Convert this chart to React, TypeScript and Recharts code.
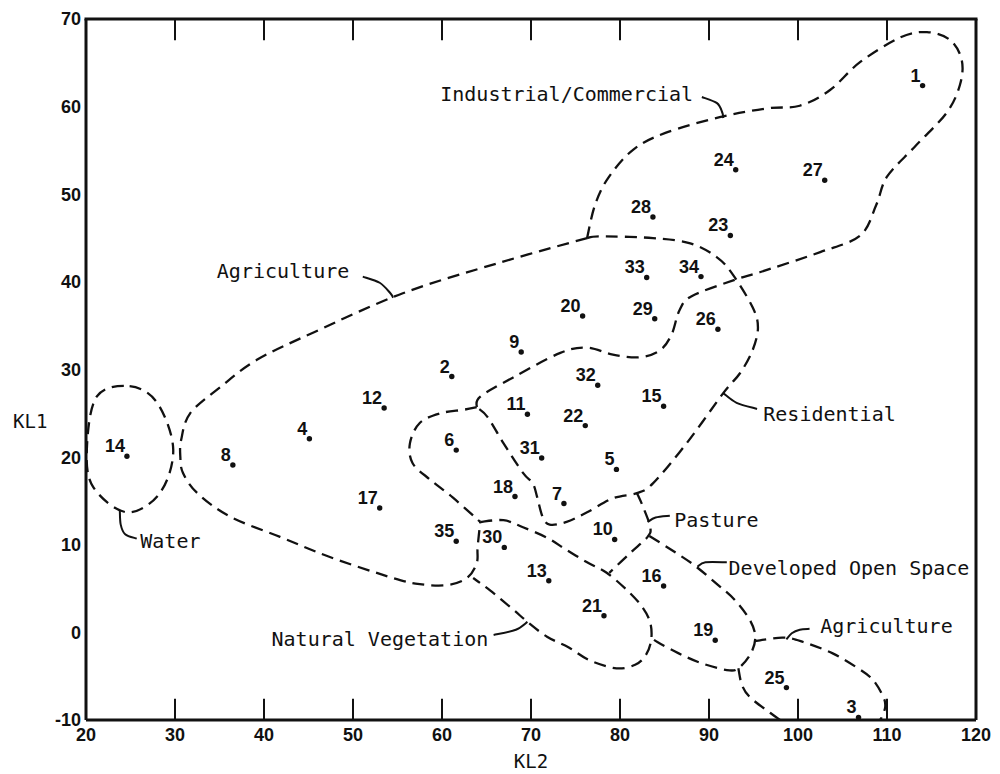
import React from 'react';
import { ScatterChart, Scatter, XAxis, YAxis } from 'recharts';

// sites: id, KL2 (x) and KL1 (y)
const siteIds = [
  1, 2, 3, 4, 5, 6, 7, 8, 9, 10, 11, 12, 13, 14, 15, 16, 17, 18,
  19, 20, 21, 22, 23, 24, 25, 26, 27, 28, 29, 30, 31, 32, 33, 34, 35,
];
const kl2 = [
  114.0, 61.1, 106.8, 45.1, 79.6, 61.6, 73.7, 36.5, 68.9, 79.4, 69.6, 53.5, 72.0, 24.6, 84.9, 84.9, 53.0, 68.2,
  90.7, 75.8, 78.2, 76.1, 92.4, 93.0, 98.7, 91.0, 103.0, 83.7, 83.9, 67.0, 71.2, 77.5, 83.0, 89.1, 61.6,
];
const kl1 = [
  62.4, 29.2, -9.7, 22.1, 18.6, 20.8, 14.7, 19.1, 32.0, 10.6, 24.9, 25.6, 5.9, 20.1, 25.8, 5.3, 14.2, 15.5,
  -0.9, 36.1, 1.9, 23.6, 45.3, 52.8, -6.3, 34.6, 51.6, 47.4, 35.8, 9.7, 19.9, 28.2, 40.5, 40.6, 10.4,
];

const kl2Ticks = [20, 30, 40, 50, 60, 70, 80, 90, 100, 110, 120];
const kl1Ticks = [-10, 0, 10, 20, 30, 40, 50, 60, 70];

// dashed class boundaries, in KL2/KL1 units
const industrialTop = [
  [76.3, 45.0], [77.2, 48.8], [78.7, 51.9], [81.5, 55.1], [85.1, 57.0], [91.2, 58.8], [96.5, 59.8],
  [100.2, 60.1], [103.6, 61.9], [107.0, 65.1], [111.5, 67.9], [114.5, 68.5], [117.1, 67.6], [118.4, 65.3],
  [118.2, 62.5], [116.7, 59.3], [113.1, 55.4], [110.0, 52.0], [108.8, 48.8], [107.0, 45.3], [102.5, 43.4],
  [95.7, 41.1], [93.1, 40.3], [88.1, 38.4], [86.7, 36.8], [85.8, 34.0], [84.5, 32.2], [82.2, 31.4],
  [79.2, 31.7], [76.3, 32.5], [73.3, 31.9], [68.0, 29.1], [64.3, 26.9], [63.9, 25.7],
];
const residentialEdge = [
  [76.3, 45.0], [77.8, 45.2], [83.7, 45.0], [87.9, 44.4], [90.9, 42.8], [92.7, 40.8], [94.9, 37.1],
  [95.5, 34.8], [94.9, 32.2], [93.5, 29.6], [91.6, 27.3], [87.5, 21.6], [83.7, 17.0], [81.9, 15.9],
  [79.2, 15.3], [76.3, 13.7], [74.0, 12.6], [72.1, 12.3], [71.3, 13.2], [70.7, 15.4], [70.2, 17.0],
  [69.1, 18.2], [66.9, 21.6], [65.1, 24.6], [63.9, 25.7],
];
const agricultureEdge = [
  [76.3, 45.0], [66.5, 42.2], [55.6, 38.7], [45.5, 34.2], [39.2, 31.1], [35.1, 28.0], [31.7, 25.0],
  [30.7, 22.0], [30.6, 20.0], [30.9, 18.2], [32.5, 15.9], [36.2, 13.2], [41.8, 10.9], [47.4, 8.6],
  [54.5, 6.2], [57.5, 5.5], [60.6, 5.4], [62.8, 6.2], [63.9, 7.9], [64.0, 9.7], [64.3, 12.6],
];
const innerEdge = [
  [63.9, 25.7], [62.4, 25.4], [59.8, 25.0], [57.5, 23.9], [56.4, 21.6], [56.7, 19.3], [58.7, 17.4],
  [61.2, 15.4], [64.3, 12.6],
];
const vegetationEdge = [
  [64.3, 12.6], [66.9, 12.8], [69.1, 12.0], [71.8, 10.8], [74.0, 9.4], [76.3, 8.0], [78.5, 6.8],
  [80.8, 4.8], [82.5, 2.9], [83.4, 1.1], [83.5, -0.9], [82.9, -2.6], [81.7, -3.7], [79.6, -4.1],
  [76.6, -3.2], [74.2, -1.7], [71.8, -0.5], [69.6, 1.2], [68.0, 2.6], [65.4, 4.8], [63.5, 6.2],
];
const pastureEdge = [
  [81.9, 15.9], [82.6, 14.3], [83.4, 12.0], [83.1, 10.9], [81.2, 9.1], [78.8, 6.8],
];
const openSpaceEdge = [
  [83.3, 11.0], [85.8, 9.4], [88.3, 7.7], [90.8, 5.6], [92.9, 3.7], [94.6, 1.4], [95.2, -0.5],
  [94.7, -2.4], [93.3, -4.1], [92.0, -4.3], [89.1, -3.5], [86.6, -2.4], [84.2, -1.1], [83.5, -0.6],
];
const agricultureLowTop = [
  [95.1, -1.0], [98.3, -0.6], [100.6, -1.1], [103.9, -2.4], [106.6, -4.0], [108.4, -5.4],
  [109.6, -7.4], [109.8, -8.5], [109.4, -9.7], [109.2, -10.0],
];
const agricultureLowLeft = [
  [93.3, -4.1], [93.7, -6.0], [94.6, -7.4], [96.9, -9.2], [98.0, -10.0],
];
const waterEdge = [
  [24.9, 28.1], [28.0, 26.2], [29.8, 20.9], [28.3, 15.9], [24.6, 13.7], [20.8, 16.6], [20.1, 21.0], [21.2, 26.9],
];

// leader lines from labels to boundaries
const leaders = [
  [[89.2, 61.1], [90.9, 60.4], [91.5, 59.3], [91.6, 58.7]],
  [[51.1, 40.6], [53.0, 39.9], [54.2, 38.7], [54.5, 38.2]],
  [[23.8, 13.9], [23.9, 12.3], [24.4, 11.2], [25.7, 10.7]],
  [[91.6, 27.3], [93.1, 26.2], [95.4, 25.5]],
  [[83.1, 12.6], [84.0, 13.1], [85.6, 13.3]],
  [[88.7, 7.5], [89.6, 8.0], [92.0, 8.0]],
  [[98.7, -0.8], [99.3, -0.1], [100.2, 0.3], [101.3, 0.4]],
  [[69.6, 1.2], [68.3, 0.3], [65.8, -0.3]],
];

const classNames = [
  'Industrial/Commercial', 'Agriculture', 'Water', 'Residential', 'Pasture',
  'Developed Open Space', 'Agriculture', 'Natural Vegetation',
];
const classAt = [
  [59.8, 60.6], [34.7, 40.4], [26.1, 9.6], [96.1, 24.1], [86.1, 12.0], [92.2, 6.5], [102.5, -0.1], [65.2, -1.6],
];

const ink = '#111';
const sans = '"Liberation Sans", Arial, sans-serif';
const mono = '"DejaVu Sans Mono", monospace';

const sites = siteIds.map((id, i) => ({ id, x: kl2[i], y: kl1[i] }));
const toPts = (arr: number[][]) => arr.map(([x, y]) => ({ x, y }));
const classLabels = classNames.map((text, i) => ({
  text,
  x: classAt[i][0],
  y: classAt[i][1],
  anchor: text === 'Natural Vegetation' ? 'end' : 'start',
}));
// frame top edge and the inner ticks on top and bottom (about 20px long)
const tickLen = 2.3;
const topEdge = [[20, 70], [120, 70]];
const frameTicks = kl2Ticks.slice(1, -1).flatMap((x) => [
  [[x, 69.9], [x, 70 - tickLen]],
  [[x, -9.9], [x, -10 + tickLen]],
]);

function smoothPath(pts: { x: number; y: number }[], closed: boolean) {
  const n = pts.length;
  if (n < 2) return '';
  const at = (i: number) => (closed ? pts[(i + n) % n] : pts[Math.max(0, Math.min(n - 1, i))]);
  let d = `M${pts[0].x},${pts[0].y}`;
  const segs = closed ? n : n - 1;
  for (let i = 0; i < segs; i++) {
    const p0 = at(i - 1), p1 = at(i), p2 = at(i + 1), p3 = at(i + 2);
    const c1x = p1.x + (p2.x - p0.x) / 6, c1y = p1.y + (p2.y - p0.y) / 6;
    const c2x = p2.x - (p3.x - p1.x) / 6, c2y = p2.y - (p3.y - p1.y) / 6;
    d += ` C${c1x},${c1y} ${c2x},${c2y} ${p2.x},${p2.y}`;
  }
  return closed ? d + ' Z' : d;
}

const boundary = (closed: boolean) => (props: any) => (
  <path d={smoothPath(props.points, closed)} fill="none" stroke={ink} strokeWidth={2.3} strokeDasharray="12 7" />
);
const leaderLine = (props: any) => (
  <path d={smoothPath(props.points, false)} fill="none" stroke={ink} strokeWidth={2} />
);
const straight = (width: number) => (props: any) => {
  const p = props.points || [];
  if (p.length < 2) return <g />;
  return <path d={`M${p[0].x},${p[0].y} L${p[1].x},${p[1].y}`} fill="none" stroke={ink} strokeWidth={width} strokeLinecap="square" />;
};
const noMarker = () => <g />;
const noTick = () => <g />;

const siteMarker = (props: any) => {
  const { cx, cy, payload } = props;
  return (
    <g>
      <circle cx={cx} cy={cy} r={2.7} fill={ink} />
      <text x={cx - 2} y={cy - 4} textAnchor="end" fontFamily={sans} fontWeight={700} fontSize={18} fill={ink}>
        {payload.id}
      </text>
    </g>
  );
};

const classText = (props: any) => {
  const { cx, cy, payload } = props;
  return (
    <text x={cx} y={cy} textAnchor={payload.anchor} fontFamily={mono} fontSize={20} fill={ink}>
      {payload.text}
    </text>
  );
};

const tickFont = { fill: ink, fontSize: 18, fontWeight: 700, fontFamily: sans };
const frame = { stroke: ink, strokeWidth: 3 };
const tickStroke = { stroke: ink, strokeWidth: 2 };

const outlines: [number[][], boolean][] = [
  [industrialTop, false],
  [residentialEdge, false],
  [agricultureEdge, false],
  [innerEdge, false],
  [vegetationEdge, false],
  [pastureEdge, false],
  [openSpaceEdge, false],
  [agricultureLowTop, false],
  [agricultureLowLeft, false],
  [waterEdge, true],
];

export default function App() {
  return (
    <div style={{ position: 'absolute', left: 0, top: 0, width: 1000, height: 774, background: '#fff' }}>
      <ScatterChart width={1000} height={774} margin={{ top: 19, right: 24, bottom: 24, left: 46 }}>
        <XAxis
          xAxisId="b"
          dataKey="x"
          type="number"
          domain={[20, 120]}
          ticks={kl2Ticks}
          interval={0}
          height={30}
          tickLine={false}
          tickSize={0}
          tickMargin={8}
          axisLine={frame}
          tick={tickFont}
          label={{
            content: ({ viewBox }: any) => (
              <text x={viewBox.x + viewBox.width / 2} y={viewBox.y + viewBox.height + 18} textAnchor="middle" fontFamily={mono} fontSize={19} fill={ink}>
                KL2
              </text>
            ),
          }}
        />
        <YAxis
          yAxisId="l"
          dataKey="y"
          type="number"
          domain={[-10, 70]}
          ticks={kl1Ticks}
          interval={0}
          width={40}
          tickLine={false}
          tickSize={0}
          tickMargin={5}
          axisLine={frame}
          tick={tickFont}
          label={{
            content: ({ viewBox }: any) => (
              <text x={viewBox.x - 33} y={viewBox.y + viewBox.height * 0.583} fontFamily={mono} fontSize={19} fill={ink}>
                KL1
              </text>
            ),
          }}
        />
        <YAxis yAxisId="li" dataKey="y" type="number" domain={[-10, 70]} ticks={kl1Ticks} interval={0} mirror width={40} tick={noTick} tickSize={22} tickLine={tickStroke} axisLine={false} />
        <YAxis yAxisId="r" dataKey="y" type="number" domain={[-10, 70]} ticks={kl1Ticks} interval={0} orientation="right" mirror width={40} tick={noTick} tickSize={22} tickLine={tickStroke} axisLine={frame} />

        <Scatter xAxisId="b" yAxisId="l" data={toPts(topEdge)} shape={noMarker} line={straight(3)} lineType="joint" isAnimationActive={false} />
        {frameTicks.map((arr, i) => (
          <Scatter
            key={`frametick-${i}`}
            xAxisId="b"
            yAxisId="l"
            data={toPts(arr)}
            shape={noMarker}
            line={straight(2)}
            lineType="joint"
            isAnimationActive={false}
          />
        ))}

        {outlines.map(([arr, closed], i) => (
          <Scatter
            key={`outline-${i}`}
            xAxisId="b"
            yAxisId="l"
            data={toPts(arr)}
            shape={noMarker}
            line={boundary(closed)}
            lineType="joint"
            isAnimationActive={false}
          />
        ))}
        {leaders.map((arr, i) => (
          <Scatter
            key={`leader-${i}`}
            xAxisId="b"
            yAxisId="l"
            data={toPts(arr)}
            shape={noMarker}
            line={leaderLine}
            lineType="joint"
            isAnimationActive={false}
          />
        ))}
        <Scatter xAxisId="b" yAxisId="l" data={classLabels} shape={classText} isAnimationActive={false} />
        <Scatter xAxisId="b" yAxisId="l" data={sites} shape={siteMarker} isAnimationActive={false} />
      </ScatterChart>
    </div>
  );
}
